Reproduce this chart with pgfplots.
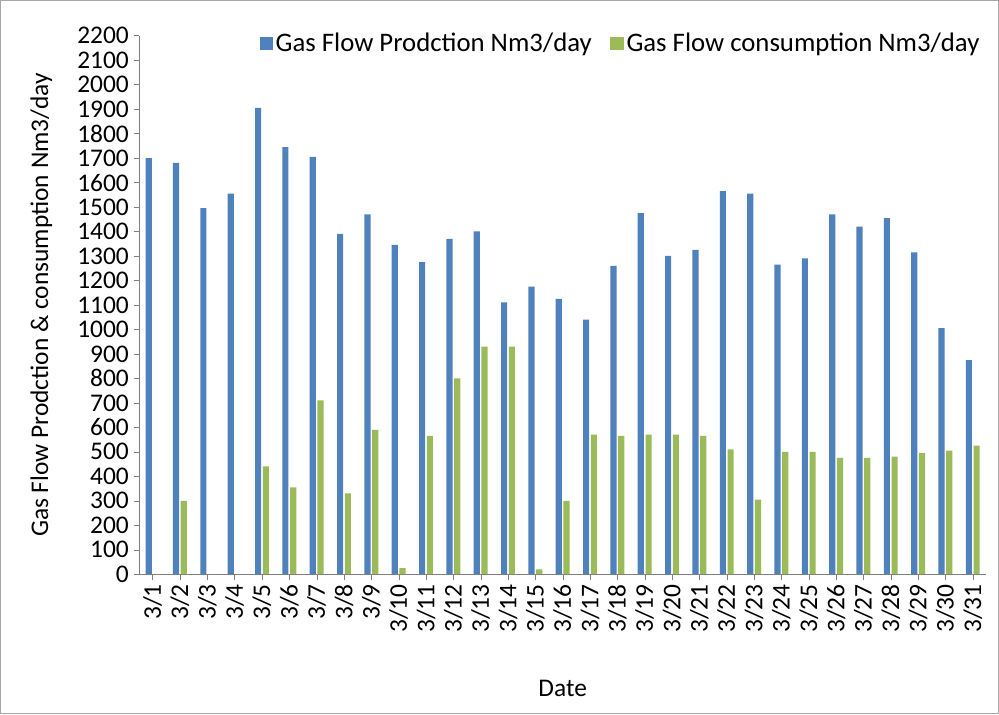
\documentclass[border=0pt]{standalone}
\usepackage{pgfplots}
\pgfplotsset{compat=1.18}
\usepackage{fontspec}
\setmainfont{Carlito}
\definecolor{pblue}{HTML}{4F81BD}
\definecolor{pgreen}{HTML}{9BBB59}
\begin{document}
\begin{tikzpicture}[x=1pt,y=1pt]
\draw[gray!70,line width=0.8pt] (-103.5,-104.25) rectangle (642.75,429);
\begin{axis}[
  at={(0,0)}, anchor=south west,
  scale only axis, width=633.75pt, height=402.75pt,
  ybar=1.2pt, bar width=4.6pt,
  xmin=-0.5, xmax=30.5, ymin=0, ymax=2200,
  ytick distance=100,
  xtick={0,...,30},
  xticklabels={3/1,3/2,3/3,3/4,3/5,3/6,3/7,3/8,3/9,3/10,3/11,3/12,3/13,3/14,3/15,3/16,3/17,3/18,3/19,3/20,3/21,3/22,3/23,3/24,3/25,3/26,3/27,3/28,3/29,3/30,3/31},
  x tick label style={rotate=90, anchor=east, font=\fontsize{19}{19}\selectfont},
  y tick label style={font=\fontsize{19}{19}\selectfont},
  /pgf/number format/assume math mode=true,
  /pgf/number format/1000 sep={},
  axis x line*=bottom, axis y line*=left,
  x axis line style={draw=gray}, y axis line style={draw=gray},
  tick style={draw=gray}, major tick length=4pt,
  tick align=outside,
  xtick pos=bottom, ytick pos=left,
  xlabel={Date}, ylabel={Gas Flow Prodction \& consumption Nm3/day},
  xlabel style={font=\fontsize{19}{19}\selectfont, yshift=-29pt},
  ylabel style={font=\fontsize{19}{19}\selectfont, yshift=12pt},
  legend style={draw=none, fill=none, at={(1.0,1.015)}, anchor=north east,
    font=\fontsize{20}{20}\selectfont, legend columns=2,
    /tikz/every even column/.append style={column sep=12pt}},
  legend image code/.code={\fill[#1] (0pt,-5pt) rectangle (10pt,5pt);},
  clip=false,
]
\addplot[fill=pblue, draw=none] coordinates {
(0,1700)(1,1680)(2,1495)(3,1555)(4,1905)(5,1745)(6,1705)(7,1390)(8,1470)(9,1345)
(10,1275)(11,1370)(12,1400)(13,1110)(14,1175)(15,1125)(16,1040)(17,1260)(18,1475)(19,1300)
(20,1325)(21,1565)(22,1555)(23,1265)(24,1290)(25,1470)(26,1420)(27,1455)(28,1315)(29,1005)(30,875)};
\addplot[fill=pgreen, draw=none] coordinates {
(0,0)(1,300)(2,0)(3,0)(4,440)(5,355)(6,710)(7,330)(8,590)(9,25)
(10,565)(11,800)(12,930)(13,930)(14,20)(15,300)(16,570)(17,565)(18,570)(19,570)
(20,565)(21,510)(22,305)(23,500)(24,500)(25,475)(26,475)(27,480)(28,495)(29,505)(30,525)};
\legend{Gas Flow Prodction Nm3/day, Gas Flow consumption Nm3/day}
\end{axis}
\end{tikzpicture}
\end{document}
